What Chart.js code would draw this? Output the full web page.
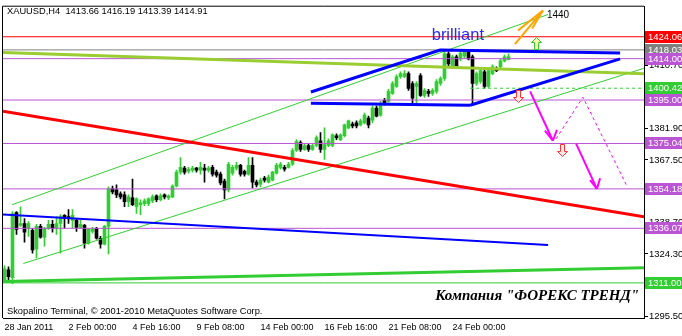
<!DOCTYPE html>
<html><head><meta charset="utf-8">
<script src="https://cdn.jsdelivr.net/npm/chart.js@4.4.1/dist/chart.umd.min.js"></script>
<style>html,body{margin:0;padding:0;background:#fff;overflow:hidden}canvas{display:block}</style>
</head><body>
<canvas id="c" width="682" height="336"></canvas>
<script>
// ---------- DATA ----------
const dateLabels = ['28 Jan 2011','2 Feb 00:00','4 Feb 16:00','9 Feb 08:00','14 Feb 00:00','16 Feb 16:00','21 Feb 08:00','24 Feb 00:00'];
const dateLabelBars = [0,16,32,48,64,80,96,112];
const yTickValues = [1295.5,1309.9,1324.3,1338.7,1353.1,1367.5,1381.9,1396.3,1410.7,1425.1];

const opens = [1312.1,1317.0,1313.4,1343.3,1337.4,1338.3,1336.1,1335.2,1326.6,1337.0,
1332.0,1336.1,1337.9,1336.1,1338.3,1342.0,1341.5,1339.7,1339.7,1336.5,
1337.4,1329.3,1334.7,1336.1,1331.5,1328.8,1337.0,1354.2,1353.7,1351.9,
1351.4,1348.3,1350.1,1346.0,1346.9,1347.4,1347.4,1348.7,1351.0,1349.2,
1351.4,1350.1,1350.5,1355.5,1361.9,1363.7,1362.3,1362.8,1363.7,1362.8,
1363.7,1362.8,1364.1,1361.9,1361.0,1357.8,1353.7,1361.4,1363.7,1365.0,
1362.3,1361.0,1365.0,1357.3,1356.4,1359.2,1357.3,1358.2,1361.4,1364.1,
1364.1,1364.1,1365.5,1371.8,1375.4,1372.3,1374.1,1372.3,1374.1,1376.3,
1372.3,1374.1,1374.1,1378.6,1376.8,1378.6,1382.2,1384.0,1384.5,1383.6,
1384.5,1386.7,1385.8,1391.3,1388.1,1394.9,1394.4,1398.0,1401.2,1405.7,
1405.7,1407.1,1402.6,1401.2,1406.2,1397.1,1399.0,1398.0,1399.0,1402.6,
1404.9,1416.2,1410.3,1414.8,1413.9,1415.2,1417.1,1414.8,1402.6,1403.5,
1408.0,1401.2,1407.1,1409.4,1410.3,1413.0,1413.66];
const highs = [1318.9,1318.4,1343.8,1343.8,1346.0,1340.6,1339.2,1336.1,1337.9,1337.9,
1336.5,1339.7,1339.7,1341.5,1342.4,1342.4,1344.7,1344.7,1340.2,1339.7,
1337.9,1336.1,1336.5,1336.5,1332.4,1337.4,1355.1,1355.5,1356.0,1352.8,
1352.8,1351.4,1358.7,1350.1,1349.2,1349.6,1350.1,1351.4,1351.4,1351.9,
1351.9,1351.4,1356.0,1362.8,1368.6,1364.6,1364.1,1364.6,1364.1,1366.4,
1365.5,1364.6,1365.0,1362.8,1361.9,1358.7,1366.4,1365.0,1366.4,1365.5,
1362.8,1368.6,1368.6,1358.2,1359.2,1360.0,1360.5,1362.3,1365.9,1366.4,
1365.0,1366.4,1372.7,1376.8,1376.3,1375.0,1375.0,1375.0,1378.6,1380.0,
1382.2,1377.2,1379.5,1379.5,1379.5,1384.0,1385.8,1384.9,1385.4,1386.3,
1389.0,1387.6,1392.2,1392.2,1394.4,1395.8,1399.9,1403.5,1406.6,1408.0,
1408.5,1408.0,1403.5,1403.5,1407.1,1400.3,1399.9,1400.3,1404.4,1405.7,
1417.1,1417.1,1415.7,1415.7,1417.5,1418.0,1418.0,1415.7,1408.0,1409.4,
1408.9,1409.4,1411.2,1410.3,1413.9,1415.7,1416.19];
const lows = [1311.2,1311.2,1310.7,1333.3,1337.0,1329.7,1332.4,1324.7,1322.5,1331.5,
1327.9,1335.6,1334.3,1333.3,1324.7,1336.1,1338.3,1336.1,1334.7,1336.1,
1327.0,1328.8,1333.8,1331.1,1327.0,1328.4,1324.3,1351.9,1350.1,1349.6,
1346.0,1346.0,1346.5,1342.9,1342.4,1346.5,1346.5,1347.8,1348.3,1348.7,
1349.6,1349.2,1350.1,1355.1,1361.0,1361.0,1361.4,1361.9,1361.9,1361.0,
1357.3,1361.9,1360.0,1359.6,1356.0,1349.6,1352.8,1360.5,1362.8,1360.0,
1360.0,1360.5,1354.6,1355.1,1355.1,1357.3,1356.9,1357.8,1361.0,1363.2,
1362.3,1363.7,1365.0,1371.4,1371.4,1371.8,1371.4,1371.8,1373.6,1370.9,
1367.7,1373.6,1373.6,1376.8,1376.3,1378.1,1381.8,1382.2,1382.2,1383.1,
1384.0,1382.2,1384.5,1387.2,1387.6,1392.6,1394.0,1397.6,1400.8,1404.9,
1405.3,1399.4,1393.5,1393.5,1396.7,1396.2,1396.7,1397.1,1398.0,1401.7,
1404.0,1410.7,1409.8,1409.8,1413.0,1414.3,1413.4,1392.6,1401.7,1402.6,
1400.3,1400.8,1406.6,1408.0,1409.8,1412.5,1413.39];
const closes = [1317.5,1313.9,1342.9,1335.6,1338.3,1334.3,1338.3,1326.1,1337.0,1332.0,
1336.1,1337.9,1336.1,1338.3,1341.5,1340.6,1340.6,1342.0,1336.5,1337.9,
1329.3,1335.6,1335.6,1331.5,1328.8,1337.0,1354.2,1352.8,1351.4,1350.5,
1348.3,1350.5,1346.9,1349.6,1347.8,1348.7,1349.6,1350.5,1349.2,1351.0,
1350.5,1351.0,1355.5,1361.9,1364.1,1361.9,1363.2,1363.7,1362.8,1364.1,
1362.8,1363.7,1361.0,1360.5,1356.9,1353.7,1365.5,1364.1,1365.0,1361.0,
1361.0,1365.0,1357.3,1356.0,1358.2,1358.2,1359.6,1361.9,1365.0,1365.5,
1363.2,1365.5,1371.8,1375.9,1372.3,1374.1,1372.3,1374.1,1377.7,1372.3,
1374.5,1376.3,1379.0,1377.7,1379.0,1383.6,1385.4,1383.1,1383.1,1385.4,
1388.1,1383.6,1391.3,1387.6,1393.5,1393.5,1399.0,1402.6,1405.7,1407.1,
1407.1,1400.3,1395.8,1402.6,1397.1,1399.4,1398.0,1399.4,1403.5,1404.9,
1416.2,1411.6,1414.8,1410.3,1416.6,1417.1,1413.9,1402.6,1407.1,1408.5,
1401.2,1408.5,1410.3,1408.5,1413.0,1414.8,1414.91];

// horizontal price levels (shown in coloured boxes on the price axis)
const levelValues = [1424.06, 1418.03, 1414.00, 1400.42, 1395.00, 1375.04, 1354.18, 1336.07, 1311.00];
const levelLabels = ['1424.06','1418.03','1414.00','1400.42','1395.00','1375.04','1354.18','1336.07','1311.00'];
const levelStartBar = [null, null, null, 116.4, null, null, null, null, null];

// trend lines: [bar index, price]
const redTrend = [[-0.375, 1389.9], [159.9, 1341.4]];
const blueTrend = [[-0.375, 1342.4], [135.9, 1328.4]];
const oliveTrend = [[-0.375, 1416.8], [159.9, 1407.1]];
const greenBaseTrend = [[-0.375, 1311.6], [159.9, 1318.0]];
const channelUpper = [[1.9, 1346.9], [135.9, 1434.3]];
const channelLower = [[4.7, 1319.9], [159.9, 1409.6]];
const wedgeUpper = [[76.6, 1398.7], [108.9, 1418.0], [153.9, 1416.6]];
const wedgeBottom = [[76.6, 1393.5], [116.4, 1392.6]];
const wedgeLower = [[116.4, 1392.6], [153.9, 1413.9]];
const orangeA = [[127.6, 1420.7], [134.6, 1436.1]];
const orangeB = [[128.4, 1427.0], [134.6, 1436.1]];
const orangeC = [[131.9, 1427.9], [134.6, 1436.1]];
const magentaA = [[131.4, 1399.0], [137.1, 1376.3]];
const magentaAhead1 = [[135.1, 1380.9], [137.1, 1376.3]];
const magentaAhead2 = [[137.1, 1376.3], [138.1, 1381.3]];
const magentaB = [[142.9, 1375.0], [148.1, 1354.2]];
const magentaBhead1 = [[146.4, 1358.2], [148.1, 1354.2]];
const magentaBhead2 = [[148.1, 1354.2], [148.9, 1359.1]];
const magentaDash = [[137.9, 1377.2], [144.6, 1396.3], [155.6, 1355.5]];

// annotations [bar index, price]
const textBrilliant = {x: 106.8, y: 1424.5, text: 'brilliant'};
const text1440 = {x: 135.6, y: 1433.8, text: '1440'};
const upArrows = [{x: 132.9, y: 1423.9}];
const downArrows = [{x: 128.25, y: 1399.4}, {x: 139.25, y: 1375.0}];

// ---------- CHART ----------
const X_MIN = -0.375, X_MAX = 159.875;
const BULL = '#32CD32', BEAR = '#000000';
const candleColors = closes.map((c, i) => c >= opens[i] ? BULL : BEAR);
const wickData = highs.map((h, i) => ({x: i, y: [lows[i], h]}));
const bodyData = opens.map((o, i) => ({x: i, y: [o, closes[i]]}));

function pts(a) { return a.map(p => ({x: p[0], y: p[1]})); }
function lineDs(a, color, width, dash, order) {
  return {type: 'line', data: pts(a), borderColor: color, borderWidth: width, borderDash: dash || [],
    pointRadius: 0, fill: false, tension: 0, order: order == null ? 2 : order, borderCapStyle: 'butt'};
}
const levelColors = ['#FF0000', '#808080', '#BA55D3', '#32CD32', '#BA55D3', '#BA55D3', '#BA55D3', '#BA55D3', '#32CD32'];
const levelDash = [null, null, null, [3, 3], null, null, null, null, null];

const datasets = [
  {type: 'bar', data: wickData, backgroundColor: candleColors, barThickness: 1, grouped: false, order: 20, borderWidth: 0},
  {type: 'bar', data: bodyData, backgroundColor: candleColors, barThickness: 3, grouped: false, order: 19, borderWidth: 0, minBarLength: 1},
];
levelValues.forEach((v, k) => {
  const start = levelStartBar[k] == null ? X_MIN : levelStartBar[k];
  datasets.push(lineDs([[start, v], [X_MAX, v]], levelColors[k], 1, levelDash[k], 5));
});
datasets.push(lineDs(oliveTrend, '#9ACD32', 3, null, 4));
datasets.push(lineDs(greenBaseTrend, '#32CD32', 3, null, 4));
datasets.push(lineDs(channelUpper, '#32CD32', 1, null, 4));
datasets.push(lineDs(channelLower, '#32CD32', 1, null, 4));
datasets.push(lineDs(blueTrend, '#0000FF', 2, null, 3));
datasets.push(lineDs(redTrend, '#FF0000', 3, null, 3));
datasets.push(lineDs(wedgeUpper, '#0000FF', 3, null, 2));
datasets.push(lineDs(wedgeBottom, '#0000FF', 3, null, 2));
datasets.push(lineDs(wedgeLower, '#0000FF', 3, null, 2));
[orangeA, orangeB, orangeC].forEach(a => datasets.push(lineDs(a, '#FFA500', 2, null, 1)));
[magentaA, magentaAhead1, magentaAhead2, magentaB, magentaBhead1, magentaBhead2].forEach(a => datasets.push(lineDs(a, '#FF00FF', 2, null, 1)));
datasets.push(lineDs(magentaDash, '#FF00FF', 1, [3, 3], 1));

const FONT = 'Liberation Sans';

const overlay = {
  id: 'overlay',
  afterDatasetsDraw(chart) {
    const {ctx, scales: {x, y}} = chart;
    ctx.save();
    function arrow(cx, ty, dir, stroke, fill) {
      const s = dir;
      const h = 12, hw = 5, sw = 2, hh = 5;
      const tipY = s === 1 ? ty : ty + h;
      const p = [[0, 0], [hw, hh], [sw, hh], [sw, h], [-sw, h], [-sw, hh], [-hw, hh]];
      ctx.beginPath();
      p.forEach((q, i) => {
        const px = Math.round(cx) + 0.5 + q[0];
        const py = Math.round(tipY) + 0.5 + (s === 1 ? q[1] : -q[1]);
        if (i === 0) ctx.moveTo(px, py); else ctx.lineTo(px, py);
      });
      ctx.closePath();
      ctx.fillStyle = fill; ctx.fill();
      ctx.strokeStyle = stroke; ctx.lineWidth = 1; ctx.stroke();
    }
    upArrows.forEach(a => arrow(x.getPixelForValue(a.x), y.getPixelForValue(a.y), 1, '#33CC33', '#FFFFAA'));
    downArrows.forEach(a => arrow(x.getPixelForValue(a.x), y.getPixelForValue(a.y), -1, '#FF3333', '#FFE8E8'));
    ctx.fillStyle = '#2B2BF0';
    ctx.font = '16.5px "' + FONT + '"';
    ctx.textBaseline = 'middle'; ctx.textAlign = 'left';
    ctx.fillText(textBrilliant.text, x.getPixelForValue(textBrilliant.x), y.getPixelForValue(textBrilliant.y));
    ctx.fillStyle = '#000';
    ctx.font = '10px "' + FONT + '"';
    ctx.fillText(text1440.text, x.getPixelForValue(text1440.x), y.getPixelForValue(text1440.y));
    ctx.restore();
  },
  afterDraw(chart) {
    const {ctx, chartArea: ca, scales: {y}} = chart;
    ctx.save();
    ctx.strokeStyle = '#000'; ctx.lineWidth = 1;
    ctx.beginPath();
    ctx.moveTo(ca.left - 0.5, ca.bottom); ctx.lineTo(ca.left - 0.5, ca.top - 0.5); ctx.lineTo(ca.right, ca.top - 0.5);
    ctx.stroke();
    ctx.font = '9.5px "' + FONT + '"';
    ctx.textBaseline = 'middle'; ctx.textAlign = 'left';
    levelValues.forEach((v, k) => {
      const py = Math.round(y.getPixelForValue(v));
      ctx.fillStyle = levelColors[k];
      ctx.fillRect(ca.right + 1, py - 6, 40, 12);
      ctx.fillStyle = '#FFFFFF';
      ctx.fillText(levelLabels[k], ca.right + 4, py + 0.5);
    });
    ctx.fillStyle = '#000';
    ctx.font = '9.3px "' + FONT + '"';
    ctx.fillText('XAUUSD,H4  1413.66 1416.19 1413.39 1414.91', 7, 11);
    ctx.fillText('Skopalino Terminal, \u00A9 2001-2010 MetaQuotes Software Corp.', 7, 311);
    ctx.font = 'italic bold 15px "Liberation Serif"';
    ctx.textAlign = 'right';
    ctx.fillText('Компания "ФОРЕКС ТРЕНД"', 639, 296);
    ctx.restore();
  }
};

new Chart(document.getElementById('c'), {
  type: 'bar',
  data: {datasets},
  options: {
    responsive: false, animation: false, devicePixelRatio: 1,
    layout: {padding: {left: 3, top: 2, right: 0, bottom: 0}},
    plugins: {legend: {display: false}, tooltip: {enabled: false}},
    scales: {
      x: {
        type: 'linear', min: X_MIN, max: X_MAX, offset: false,
        grid: {display: false, drawTicks: false},
        border: {display: true, color: '#000'},
        afterBuildTicks: s => { s.ticks = dateLabelBars.map(v => ({value: v})); },
        afterFit: s => { s.height = 18; },
        ticks: {
          autoSkip: false, maxRotation: 0, minRotation: 0, align: 'start', padding: 4, color: '#000',
          font: {family: FONT, size: 9},
          callback: v => { const k = dateLabelBars.indexOf(v); return k >= 0 ? dateLabels[k] : ''; }
        }
      },
      y: {
        type: 'linear', position: 'right', min: 1294.88, max: 1437.87,
        grid: {drawOnChartArea: false, drawTicks: true, tickLength: 4, color: '#000'},
        border: {display: true, color: '#000'},
        afterBuildTicks: s => { s.ticks = yTickValues.map(v => ({value: v})); },
        afterFit: s => { s.width = 38; },
        ticks: {padding: 1, color: '#000', font: {family: FONT, size: 9.5}, callback: v => v.toFixed(2)}
      }
    }
  },
  plugins: [overlay]
});
</script>
</body></html>
